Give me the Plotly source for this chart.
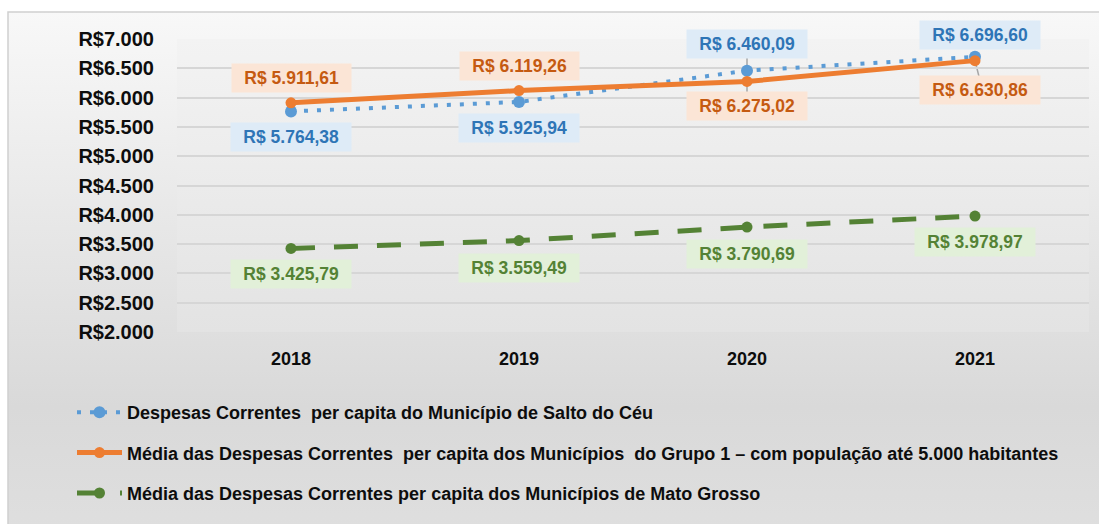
import base64
import plotly.graph_objects as go

# ---------------- data ----------------
years = ["2018", "2019", "2020", "2021"]
salto_ceu = [5764.38, 5925.94, 6460.09, 6696.60]
grupo1 = [5911.61, 6119.26, 6275.02, 6630.86]
mato_grosso = [3425.79, 3559.49, 3790.69, 3978.97]

y_ticks = [2000, 2500, 3000, 3500, 4000, 4500, 5000, 5500, 6000, 6500, 7000]
y_tick_labels = ["R$2.000", "R$2.500", "R$3.000", "R$3.500", "R$4.000", "R$4.500",
                 "R$5.000", "R$5.500", "R$6.000", "R$6.500", "R$7.000"]

names = [
    "Despesas Correntes  per capita do Município de Salto do Céu",
    "Média das Despesas Correntes  per capita dos Municípios  do Grupo 1 – com população até 5.000 habitantes",
    "Média das Despesas Correntes per capita dos Municípios de Mato Grosso",
]

# label placement: pixel offsets (dx right, dy down) of label centre from each point
salto_off = [(0, 26), (0, 26), (0, -27), (5, -22)]
grupo_off = [(0, -25), (0, -25), (0, 25), (5, 29)]
mt_off = [(0, 26), (0, 27), (0, 27), (0, 26)]
# leader lines: (series, index, dx_end, dy_end) in pixels from the point (up positive)
leaders = [("salto", 2, 0, 14), ("grupo", 2, 0, -13), ("grupo", 3, 4, -16)]

FONT = "Liberation Sans, Arial, sans-serif"


def brl(v):
    s = f"{v:,.2f}".replace(",", "X").replace(".", ",").replace("X", ".")
    return "R$ " + s


def grad_svg(stops):
    st = "".join(f'<stop offset="{o}" stop-color="{c}"/>' for o, c in stops)
    svg = ('<svg xmlns="http://www.w3.org/2000/svg" width="100" height="100" '
           'viewBox="0 0 100 100" preserveAspectRatio="none">'
           f'<defs><linearGradient id="g" x1="0" y1="0" x2="0" y2="1">{st}</linearGradient></defs>'
           '<rect x="0" y="0" width="100" height="100" fill="url(#g)"/></svg>')
    return "data:image/svg+xml;base64," + base64.b64encode(svg.encode()).decode()


fig = go.Figure()

fig.add_trace(go.Scatter(
    x=years, y=salto_ceu, name=names[0], mode="lines+markers", legendgroup="a",
    line=dict(color="#5b9bd5", width=4, dash="4px,9px"),
    marker=dict(color="#5b9bd5", size=12),
))
fig.add_trace(go.Scatter(
    x=years, y=grupo1, name=names[1], mode="lines+markers", legendgroup="b",
    line=dict(color="#ed7d31", width=5),
    marker=dict(color="#ed7d31", size=11),
))
fig.add_trace(go.Scatter(
    x=years, y=mato_grosso, name=names[2], mode="lines+markers", legendgroup="c",
    line=dict(color="#548235", width=5, dash="24px,19px"),
    marker=dict(color="#548235", size=11),
))

series_vals = {"salto": salto_ceu, "grupo": grupo1, "mt": mato_grosso}

annotations = []
series = [
    (salto_ceu, salto_off, "#2e75b6", "#deebf7"),
    (grupo1, grupo_off, "#c55a11", "#fbe5d6"),
    (mato_grosso, mt_off, "#548235", "#e2f0d9"),
]
PAD = "\u00a0\u2009"
for vals, offs, fc, bg in series:
    for i, (v, (dx, dy)) in enumerate(zip(vals, offs)):
        annotations.append(dict(
            x=i, y=v, xref="x", yref="y", text=PAD + brl(v) + PAD,
            showarrow=False, xshift=dx, yshift=-dy,
            xanchor="center", yanchor="middle",
            bgcolor=bg, borderpad=4,
            font=dict(family=FONT, size=17.5, color=fc, weight="bold"),
        ))

L, R, T, B = 177, 10, 39, 192
W, H = 1099, 524
pw = W - L - R
ph = H - T - B


def px_x(px):
    return (px - L) / pw


def px_y(py):
    return (H - B - py) / ph


outer = grad_svg([("0", "#f8f8f8"), ("0.72", "#d9d9d9"), ("1", "#e0e0e0")])
inner = grad_svg([("0", "#f3f3f3"), ("1", "#e3e3e3")])

shapes = [
    dict(type="rect", xref="paper", yref="paper", x0=px_x(8), y0=px_y(560),
         x1=px_x(1115), y1=px_y(12), line=dict(color="#d0d0d0", width=1.5),
         fillcolor="rgba(0,0,0,0)", layer="below"),
]
for key, idx, dxe, dye in leaders:
    shapes.append(dict(
        type="line", xref="x", yref="y",
        xsizemode="pixel", xanchor=idx, x0=0, x1=dxe,
        ysizemode="pixel", yanchor=series_vals[key][idx], y0=0, y1=dye,
        line=dict(color="#a6a6a6", width=1.5), layer="below",
    ))

fig.update_layout(
    width=W, height=H,
    margin=dict(l=L, r=R, t=T, b=B, autoexpand=False),
    paper_bgcolor="white",
    plot_bgcolor="rgba(0,0,0,0)",
    font=dict(family=FONT, color="#0d0d0d"),
    separators=",.",
    images=[
        dict(source=outer, xref="paper", yref="paper", x=px_x(8), y=px_y(12),
             sizex=px_x(1115) - px_x(8), sizey=px_y(12) - px_y(560),
             xanchor="left", yanchor="top", sizing="stretch", layer="below"),
        dict(source=inner, xref="paper", yref="paper", x=0, y=1,
             sizex=1, sizey=1, xanchor="left", yanchor="top", sizing="stretch", layer="below"),
    ],
    shapes=shapes,
    xaxis=dict(
        type="category", range=[-0.5, 3.5], showgrid=False, showline=False, zeroline=False,
        ticks="", ticklabelstandoff=14,
        tickfont=dict(family=FONT, size=18, color="#0d0d0d", weight="bold"),
    ),
    yaxis=dict(
        range=[2000, 7000], tickvals=y_ticks, ticktext=y_tick_labels,
        showgrid=True, gridcolor="#d6d6d6", gridwidth=1.5, zeroline=False, showline=False,
        ticks="", ticklabelstandoff=22,
        tickfont=dict(family=FONT, size=20, color="#0d0d0d", weight="bold"),
    ),
    legend=dict(
        orientation="v", x=px_x(72), y=px_y(394), xanchor="left", yanchor="top",
        bgcolor="rgba(0,0,0,0)", itemwidth=45, tracegroupgap=14,
        font=dict(family=FONT, size=18, color="#0d0d0d", weight="bold"),
    ),
    annotations=annotations,
    showlegend=True,
)

fig.write_html("out.html", config={"displayModeBar": False},
               post_script="document.body.style.margin='0px';")
